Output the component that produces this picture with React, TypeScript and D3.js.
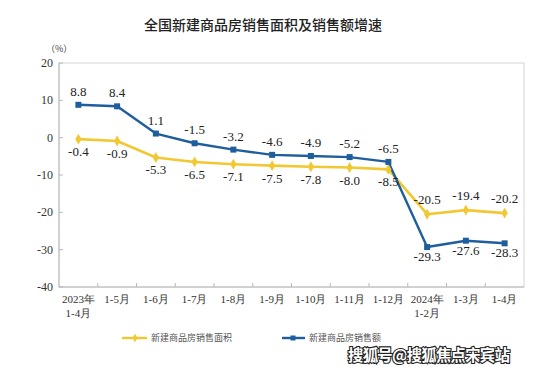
import React from "react";
import * as d3 from "d3";

const categories = ["2023年\n1-4月", "1-5月", "1-6月", "1-7月", "1-8月", "1-9月", "1-10月", "1-11月", "1-12月", "2024年\n1-2月", "1-3月", "1-4月"];
const areaGrowth = [-0.4, -0.9, -5.3, -6.5, -7.1, -7.5, -7.8, -8.0, -8.5, -20.5, -19.4, -20.2];
const salesGrowth = [8.8, 8.4, 1.1, -1.5, -3.2, -4.6, -4.9, -5.2, -6.5, -29.3, -27.6, -28.3];
const yTicks = [20, 10, 0, -10, -20, -30, -40];
const seriesNames = ["新建商品房销售面积", "新建商品房销售额"];

const W = 555, H = 367;
const M = { left: 59, right: 524, top: 63, bottom: 287 };
const YELLOW = "#f2c832";
const BLUE = "#1f5e9c";
const SERIF = "'Liberation Serif', 'Times New Roman', serif";
const CJK = "'Noto Sans CJK SC', sans-serif";

export default function App() {
  const x = d3.scaleBand<string>().domain(categories).range([M.left, M.right]);
  const y = d3.scaleLinear().domain([-40, 20]).range([M.bottom, M.top]);
  const cx = (i: number) => (x(categories[i]) as number) + x.bandwidth() / 2;
  const line = d3.line<number>().x((_, i) => cx(i)).y((d) => y(d));
  const boundaries = categories.map((c) => x(c) as number).slice(1);

  const splitIdx = 9;
  return (
    <svg width={W} height={H} style={{ position: "absolute", left: 0, top: 0, background: "#fff" }}>
      <rect width={W} height={H} fill="#fff" />
      <text x={263} y={30} textAnchor="middle" fontFamily={CJK} fontSize={14} fontWeight={500} fill="#222">
        全国新建商品房销售面积及销售额增速
      </text>
      <text x={46} y={52} fontFamily={CJK} fontSize={9} fill="#444">（%）</text>

      <rect x={M.left} y={M.top} width={M.right - M.left} height={M.bottom - M.top} fill="none" stroke="#d4d4d4" strokeWidth={1} />
      <line x1={M.left} x2={M.left} y1={M.top} y2={M.bottom} stroke="#b8b8b8" />
      <line x1={M.left} x2={M.right} y1={M.bottom} y2={M.bottom} stroke="#b8b8b8" />
      {yTicks.map((t) => (
        <g key={t}>
          <line x1={M.left} x2={M.left + 4} y1={y(t)} y2={y(t)} stroke="#b8b8b8" />
          <text x={53} y={y(t) + 4} textAnchor="end" fontFamily={SERIF} fontSize={12} fill="#333">{t}</text>
        </g>
      ))}
      {boundaries.map((b, i) => (
        <line key={i} x1={b} x2={b} y1={M.bottom} y2={M.bottom - 4} stroke="#b8b8b8" />
      ))}
      {categories.map((c, i) => (
        <text key={c} textAnchor="middle" fontFamily={SERIF} fontSize={11} fill="#333">
          {c.split("\n").map((part, j) => (
            <tspan key={j} x={cx(i)} y={303 + j * 14}>{part}</tspan>
          ))}
        </text>
      ))}

      <path d={line(areaGrowth) || ""} fill="none" stroke={YELLOW} strokeWidth={2.6} strokeLinejoin="round" />
      <path d={line(salesGrowth) || ""} fill="none" stroke={BLUE} strokeWidth={2.4} strokeLinejoin="round" />
      {areaGrowth.map((v, i) => (
        <path key={"a" + i} d={d3.symbol(d3.symbolDiamond, 34)() || ""} transform={`translate(${cx(i)},${y(v)})`} fill={YELLOW} />
      ))}
      {salesGrowth.map((v, i) => (
        <rect key={"s" + i} x={cx(i) - 3} y={y(v) - 3} width={6} height={6} fill={BLUE} />
      ))}
      {areaGrowth.map((v, i) => (
        <text key={"la" + i} x={cx(i)} y={y(v) + (i >= splitIdx ? -10 : 17)} textAnchor="middle" fontFamily={SERIF} fontSize={13} fill="#222">
          {v.toFixed(1)}
        </text>
      ))}
      {salesGrowth.map((v, i) => (
        <text key={"ls" + i} x={cx(i)} y={y(v) + (i >= splitIdx ? 14 : -9)} textAnchor="middle" fontFamily={SERIF} fontSize={13} fill="#222">
          {v.toFixed(1)}
        </text>
      ))}

      <g>
        <line x1={122} x2={147} y1={338} y2={338} stroke={YELLOW} strokeWidth={2.4} />
        <path d={d3.symbol(d3.symbolDiamond, 22)() || ""} transform="translate(135,338)" fill={YELLOW} />
        <text x={151} y={341} fontFamily={CJK} fontSize={9} fill="#555">{seriesNames[0]}</text>
        <line x1={282} x2={305} y1={338} y2={338} stroke={BLUE} strokeWidth={2.4} />
        <rect x={290.5} y={335.5} width={5} height={5} fill={BLUE} />
        <text x={309} y={341} fontFamily={CJK} fontSize={9} fill="#555">{seriesNames[1]}</text>
      </g>
      <text x={348} y={361} fontFamily={CJK} fontSize={15.5} fontWeight={700} fill="#fff" stroke="#222" strokeWidth={2.2} paintOrder="stroke" textLength={162}>
        搜狐号@搜狐焦点宋宾站
      </text>
    </svg>
  );
}
